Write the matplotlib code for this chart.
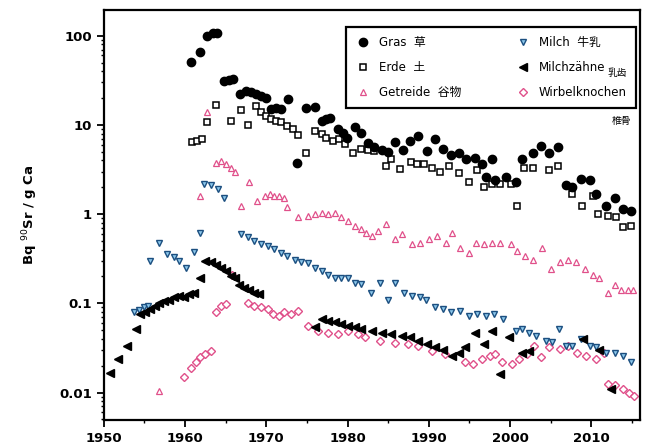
import numpy as np
import matplotlib
matplotlib.use("Agg")
import matplotlib.pyplot as plt
from matplotlib.ticker import FixedLocator, NullFormatter, LogLocator

plt.rcParams['font.family'] = ['DejaVu Sans', 'Noto Sans CJK SC']

# Gras (filled circles)
gras_x = [1960.7, 1961.8, 1962.7, 1963.5, 1963.9, 1964.8, 1965.4, 1965.9, 1966.8, 1967.5,
          1968.1, 1968.7, 1969.3, 1970.0, 1970.6, 1971.2, 1971.8, 1972.7, 1973.8, 1974.9,
          1976.0, 1976.8, 1977.4, 1977.9, 1978.8, 1979.5, 1979.9, 1980.9, 1981.7, 1982.5,
          1983.3, 1984.2, 1985.0, 1985.9, 1986.8, 1987.7, 1988.7, 1989.8, 1990.8, 1991.8,
          1992.7, 1993.7, 1994.6, 1995.7, 1996.6, 1997.0, 1997.8, 1998.2, 1999.5, 2000.7,
          2001.5, 2002.8, 2003.8, 2004.8, 2005.9, 2006.9, 2007.7, 2008.7, 2009.8, 2010.6,
          2011.8, 2012.9, 2013.9, 2014.9]
gras_y = [51, 66, 100, 106, 107, 31, 32, 33, 22, 24,
          23.5, 22, 21, 20, 15, 15.3, 15, 19.5, 3.7, 15.3,
          15.7, 11.1, 11.6, 12.1, 9, 8.1, 7.2, 9.4, 8.2, 6.2,
          5.6, 5.2, 5.0, 6.4, 5.2, 6.6, 7.6, 5.1, 6.9, 5.4,
          4.6, 4.9, 4.1, 4.3, 3.6, 2.6, 4.1, 2.4, 2.6, 2.3,
          4.1, 4.9, 5.8, 4.9, 5.6, 2.1, 2.0, 2.5, 2.4, 1.7,
          1.24, 1.5, 1.14, 1.09]

# Erde (open squares)
erde_x = [1960.9, 1961.5, 1962.1, 1962.7, 1963.8, 1965.6, 1966.9, 1967.8, 1968.7, 1969.3,
          1970.0, 1970.6, 1971.2, 1971.8, 1972.6, 1973.3, 1973.9, 1974.9, 1976.0, 1976.8,
          1977.4, 1978.2, 1979.0, 1979.7, 1980.7, 1981.7, 1982.5, 1983.3, 1984.7, 1985.3,
          1986.5, 1987.8, 1988.6, 1989.4, 1990.4, 1991.4, 1992.5, 1993.7, 1994.9, 1996.0,
          1996.8, 1997.8, 1998.8, 2000.1, 2000.9, 2001.7, 2002.8, 2004.8, 2005.9, 2007.7,
          2008.9, 2010.2, 2010.8, 2012.1, 2013.1, 2013.9, 2014.9]
erde_y = [6.5, 6.6, 6.9, 10.8, 16.6, 11, 14.8, 10, 16.4, 13.8,
          12.5, 11.6, 11.1, 10.8, 9.8, 9, 7.7, 4.9, 8.6, 7.9,
          7.2, 6.6, 6.9, 6.1, 4.9, 5.4, 5.3, 5.1, 3.5, 4.1,
          3.2, 3.8, 3.6, 3.6, 3.3, 3.0, 3.5, 2.9, 2.3, 3.1,
          2.0, 2.2, 2.2, 2.2, 1.24, 3.3, 3.3, 3.1, 3.5, 1.7,
          1.24, 1.6, 1.0, 0.96, 0.92, 0.71, 0.74]

# Getreide (open triangles up)
getr_x = [1956.8, 1961.9, 1962.7, 1963.8, 1964.4, 1965.0, 1965.6, 1966.1, 1966.9, 1967.9,
          1968.9, 1969.8, 1970.4, 1971.0, 1971.6, 1972.2, 1972.6, 1973.9, 1975.1, 1976.0,
          1976.8, 1977.6, 1978.4, 1979.2, 1980.1, 1980.9, 1981.7, 1982.3, 1983.0, 1983.8,
          1984.8, 1985.9, 1986.7, 1987.9, 1988.9, 1990.0, 1991.0, 1992.1, 1992.9, 1993.9,
          1994.9, 1995.8, 1996.8, 1997.8, 1998.8, 2000.1, 2000.9, 2001.9, 2002.8, 2003.9,
          2005.0, 2006.1, 2007.1, 2008.1, 2009.2, 2010.2, 2011.0, 2012.1, 2012.9, 2013.7,
          2014.5, 2015.1]
getr_y = [0.0104, 1.6, 13.8, 3.7, 3.9, 3.6, 3.3, 3.0, 1.24, 2.3,
          1.4, 1.6, 1.7, 1.6, 1.6, 1.5, 1.19, 0.92, 0.96, 1.0,
          1.04, 1.0, 1.04, 0.92, 0.84, 0.74, 0.68, 0.62, 0.57, 0.65,
          0.77, 0.52, 0.6, 0.46, 0.48, 0.52, 0.57, 0.48, 0.62, 0.42,
          0.37, 0.48, 0.46, 0.48, 0.48, 0.46, 0.39, 0.34, 0.31, 0.42,
          0.24, 0.29, 0.31, 0.29, 0.24, 0.21, 0.19, 0.13, 0.16, 0.14,
          0.14, 0.14]

# Milch (triangles down)
milch_x = [1953.7, 1954.3, 1954.9, 1955.4, 1955.7, 1956.8, 1957.8, 1958.6, 1959.2, 1960.1,
           1961.1, 1961.9, 1962.3, 1963.2, 1964.0, 1964.8, 1966.9, 1967.7, 1968.5, 1969.4,
           1970.2, 1971.0, 1971.8, 1972.6, 1973.5, 1974.3, 1975.1, 1976.0, 1976.8, 1977.6,
           1978.4, 1979.2, 1980.1, 1980.9, 1981.7, 1982.9, 1984.0, 1985.0, 1985.9, 1986.9,
           1987.9, 1988.9, 1989.7, 1990.8, 1991.8, 1992.8, 1993.9, 1994.9, 1996.0, 1997.0,
           1998.0, 1999.1, 2000.7, 2001.5, 2002.4, 2003.2, 2004.4, 2005.2, 2006.0, 2006.9,
           2007.7, 2008.8, 2009.8, 2010.6, 2011.8, 2012.9, 2013.9, 2014.9]
milch_y = [0.079, 0.085, 0.09, 0.094, 0.30, 0.48, 0.36, 0.33, 0.30, 0.25,
           0.38, 0.62, 2.2, 2.1, 1.9, 1.5, 0.6, 0.55, 0.5, 0.46,
           0.44, 0.41, 0.37, 0.34, 0.31, 0.29, 0.28, 0.25, 0.23, 0.21,
           0.19, 0.19, 0.19, 0.17, 0.164, 0.13, 0.17, 0.11, 0.17, 0.13,
           0.12, 0.117, 0.11, 0.09, 0.087, 0.08, 0.083, 0.073, 0.076, 0.073,
           0.076, 0.067, 0.049, 0.051, 0.047, 0.043, 0.038, 0.037, 0.052, 0.033,
           0.033, 0.04, 0.033, 0.032, 0.028, 0.028, 0.026, 0.022]

# Milchzaehne (filled triangles left)
zahn_x = [1950.8, 1951.8, 1952.8, 1953.9, 1954.5, 1955.1, 1955.7, 1956.3, 1956.8, 1957.4,
          1958.0, 1958.6, 1959.2, 1959.9, 1960.5, 1961.1, 1961.9, 1962.5, 1963.2, 1963.8,
          1964.4, 1965.0, 1965.6, 1966.1, 1966.7, 1967.3, 1967.9, 1968.5, 1969.1, 1976.0,
          1976.8, 1977.6, 1978.4, 1979.2, 1980.1, 1980.9, 1981.7, 1983.0, 1984.2, 1985.4,
          1986.7, 1987.7, 1988.7, 1989.8, 1990.8, 1991.8, 1992.9, 1993.7, 1994.5, 1995.7,
          1996.8, 1997.8, 1998.8, 1999.9, 2001.5, 2002.4, 2009.0, 2011.0, 2012.4]
zahn_y = [0.0166, 0.024, 0.033, 0.052, 0.076, 0.079, 0.087, 0.094, 0.10, 0.107,
          0.11, 0.117, 0.12, 0.117, 0.126, 0.13, 0.19, 0.30, 0.29, 0.27,
          0.25, 0.23, 0.20, 0.19, 0.16, 0.15, 0.14, 0.13, 0.126, 0.054,
          0.066, 0.063, 0.061, 0.059, 0.056, 0.054, 0.051, 0.049, 0.047, 0.045,
          0.043, 0.042, 0.038, 0.035, 0.032, 0.030, 0.026, 0.028, 0.032, 0.047,
          0.035, 0.049, 0.016, 0.042, 0.028, 0.029, 0.04, 0.03, 0.011]

# Wirbelknochen (open diamonds)
wirb_x = [1959.9, 1960.7, 1961.3, 1961.9, 1962.5, 1963.2, 1963.8, 1964.4, 1965.0, 1965.8,
          1967.7, 1968.5, 1969.3, 1970.2, 1970.8, 1971.6, 1972.2, 1973.1, 1973.9, 1975.1,
          1976.4, 1977.6, 1978.8, 1980.1, 1981.3, 1982.1, 1984.0, 1985.9, 1987.5, 1988.7,
          1990.4, 1992.0, 1994.5, 1995.5, 1996.6, 1997.6, 1998.2, 1999.0, 2000.3, 2001.1,
          2002.1, 2003.0, 2003.8, 2004.8, 2006.1, 2007.1, 2008.3, 2009.4, 2010.6, 2011.6,
          2012.1, 2012.9, 2013.9, 2014.7, 2015.3]
wirb_y = [0.015, 0.019, 0.022, 0.025, 0.027, 0.029, 0.079, 0.094, 0.098, 0.21,
          0.102, 0.094, 0.09, 0.087, 0.076, 0.073, 0.079, 0.076, 0.083, 0.056,
          0.049, 0.047, 0.045, 0.049, 0.045, 0.042, 0.038, 0.036, 0.035, 0.033,
          0.029, 0.027, 0.022, 0.021, 0.024, 0.026, 0.027, 0.022, 0.021, 0.024,
          0.027, 0.033, 0.025, 0.032, 0.031, 0.033, 0.028, 0.026, 0.024, 0.028,
          0.0124, 0.012, 0.011, 0.010, 0.0092]

pink = '#e0508a'

fig = plt.figure(figsize=(6.49, 4.47), dpi=100)
ax = fig.add_axes([0.160, 0.060, 0.826, 0.918])

ax.plot(wirb_x, wirb_y, 'D', ms=3.6, mfc='white', mec=pink, mew=1.0, ls='none',
        label='Wirbelknochen')
ax.plot(getr_x, getr_y, '^', ms=4.3, mfc='white', mec=pink, mew=0.9, ls='none',
        label='Getreide  谷物')
ax.plot(milch_x, milch_y, 'v', ms=5, mfc='#8cc8ec', mec='#1c4f80', mew=1.0, ls='none',
        label='Milch  牛乳')
ax.plot(zahn_x, zahn_y, '<', ms=5.5, color='black', ls='none', label='Milchzähne')
ax.plot(erde_x, erde_y, 's', ms=4.6, mfc='white', mec='black', mew=1.1, ls='none',
        label='Erde  土')
ax.plot(gras_x, gras_y, 'o', ms=6, color='black', ls='none', label='Gras  草')

ax.set_yscale('log')
ax.set_xlim(1950, 2016)
ax.set_ylim(0.0049, 195)
ax.set_xticks([1950, 1960, 1970, 1980, 1990, 2000, 2010])
ax.xaxis.set_minor_locator(FixedLocator([1955, 1965, 1975, 1985, 1995, 2005, 2015]))
ax.set_yticks([0.01, 0.1, 1, 10, 100])
ax.set_yticklabels(['0.01', '0.1', '1', '10', '100'])
ax.yaxis.set_minor_locator(LogLocator(base=10, subs=np.arange(2, 10)))
ax.yaxis.set_minor_formatter(NullFormatter())

for lab in ax.get_xticklabels() + ax.get_yticklabels():
    lab.set_fontweight('bold')
    lab.set_fontsize(9.5)
ax.tick_params(which='major', length=5, width=1.3, direction='out')
ax.tick_params(which='minor', length=2.5, width=1.0, direction='out')
for sp in ax.spines.values():
    sp.set_linewidth(1.6)

ax.set_ylabel(r'Bq $^{90}$Sr / g Ca', fontsize=9.5, fontweight='bold', labelpad=14)

# legend
h, l = ax.get_legend_handles_labels()
order = [5, 4, 1, 2, 3, 0]
leg = ax.legend([h[i] for i in order], [l[i] for i in order], ncol=2,
                loc='upper right', bbox_to_anchor=(1.003, 0.972), fontsize=8.5,
                frameon=True, fancybox=False, edgecolor='black', borderpad=0.75,
                columnspacing=4.6, handletextpad=0.6, labelspacing=1.0,
                handlelength=1.4, framealpha=1)
leg.get_frame().set_linewidth(1.6)
leg.set_zorder(5)

ax.text(0.958, 0.845, '乳齿', transform=ax.transAxes, fontsize=7,
        family=['Noto Sans CJK SC'], ha='center', va='center', zorder=10)
ax.text(0.965, 0.728, '椎骨', transform=ax.transAxes, fontsize=7,
        family=['Noto Sans CJK SC'], ha='center', va='center', zorder=10)

fig.savefig('out.png', dpi=100)
